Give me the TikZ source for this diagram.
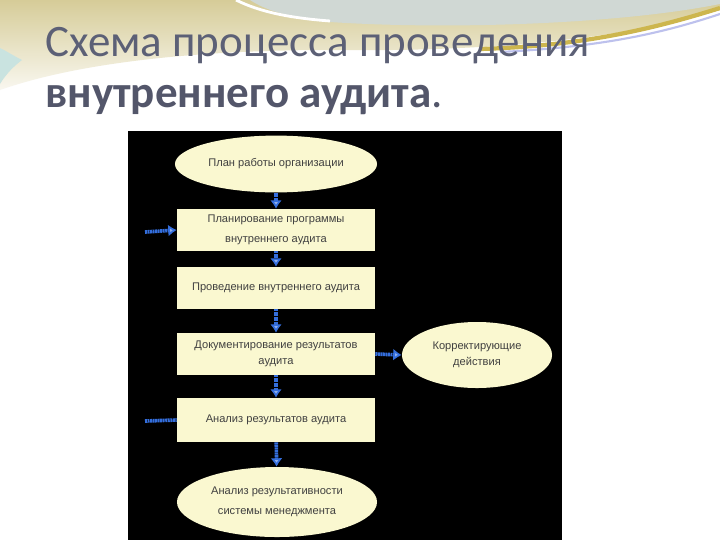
\documentclass[tikz,border=0pt]{standalone}
\usepackage{fontspec}
\setmainfont{Carlito}
\newfontfamily\boxfont{Liberation Sans}
\usepackage{xcolor}
\usepackage{tikz}
\usetikzlibrary{arrows.meta,shapes.geometric}
\definecolor{TituloGris}{RGB}{92,96,118}
\definecolor{CajaCrema}{RGB}{250,248,208}
\definecolor{FlechaAzul}{RGB}{52,110,220}
\definecolor{FondoBeige}{RGB}{214,204,152}
\definecolor{FondoTeal}{RGB}{208,216,212}
\definecolor{FranjaOro}{RGB}{205,182,78}

\begin{document}
\begin{tikzpicture}[x=0.025cm,y=-0.025cm,>=Latex,
    paso/.style={draw=none,fill=CajaCrema,minimum width=4.95cm,minimum height=1.05cm,
      inner sep=1pt,align=center,text=black!75,font=\boxfont\fontsize{7.9}{11}\selectfont},
    ovalo/.style={ellipse,draw=none,fill=CajaCrema,inner sep=0pt,align=center,
      text=black!75,font=\boxfont\fontsize{7.9}{11}\selectfont},
    flecha/.style={->,FlechaAzul,line width=2.6pt,dash pattern=on 1.4pt off 0.4pt,
      arrows={-{Latex[length=6pt,width=8.5pt,fill=FlechaAzul!55]}}}]
  \useasboundingbox (0,0) rectangle (720,540);
  \fill[white] (0,0) rectangle (720,540);
  \shade[top color=FondoBeige,bottom color=FondoBeige!15] (0,0) -- (720,0) -- (720,10)
    .. controls (620,40) and (480,52) .. (330,50) .. controls (200,50) and (80,62) .. (0,90) -- cycle;
  \fill[FondoTeal] (250,0) -- (720,0) -- (720,4) .. controls (620,24) and (450,30) .. (330,22)
    .. controls (290,18) and (265,10) .. (250,0) -- cycle;
  \draw[white,line width=2pt] (236,0) .. controls (260,12) and (290,18) .. (330,21);
  \draw[FondoTeal!70!blue!60,line width=1.5pt] (500,52) .. controls (600,47) and (660,34) .. (720,14);
  \draw[FranjaOro,line width=3pt] (480,49) .. controls (580,46) and (650,30) .. (720,8);
  \fill[FondoTeal!90!cyan!80] (0,48) .. controls (8,52) and (14,56) .. (22,60)
    .. controls (14,66) and (6,74) .. (0,84) -- cycle;
  \node[anchor=base west,text=TituloGris,font=\fontsize{32}{36}\selectfont,inner sep=0pt]
    (titulo1) at (45,56) {Схема процесса проведения};
  \node[anchor=base west,text=TituloGris!90!black,font=\fontsize{32}{36}\selectfont,inner sep=0pt]
    (titulo2) at (45,107) {\textbf{внутреннего аудита}.};
  \fill[black] (128,131) rectangle (562,540);
  \node[ovalo,minimum width=5.05cm,minimum height=1.42cm] (plan) at (276,164) {План работы организации};
  \node[paso,font=\boxfont\fontsize{7.9}{14}\selectfont] (planif) at (276,230)
    {Планирование программы\\внутреннего аудита};
  \node[paso] (prov) at (276,288) {Проведение внутреннего аудита};
  \node[paso] (docum) at (276,354) {Документирование результатов\\аудита};
  \node[paso,minimum height=1.1cm] (anal) at (276,420) {Анализ результатов аудита};
  \node[ovalo,minimum width=5.0cm,minimum height=1.75cm,font=\boxfont\fontsize{7.9}{14}\selectfont]
    (result) at (277,502) {Анализ результативности\\системы менеджмента};
  \node[ovalo,minimum width=3.75cm,minimum height=1.65cm] (korr) at (477,355)
    {Корректирующие\\действия};
  \coordinate (ent1) at (145,232);
  \coordinate (ent2) at (145,421);
  \draw[flecha] (plan) -- (planif);
  \draw[flecha] (planif) -- (prov);
  \draw[flecha] (prov) -- (docum);
  \draw[flecha] (docum) -- (anal);
  \draw[flecha] (anal) -- (result);
  \draw[flecha] (docum.east) -- (korr.west);
  \draw[flecha] (ent1) -- (planif.west);
  \draw[FlechaAzul,line width=2.6pt,dash pattern=on 1.4pt off 0.4pt] (ent2) -- (anal.west);
\end{tikzpicture}
\end{document}
